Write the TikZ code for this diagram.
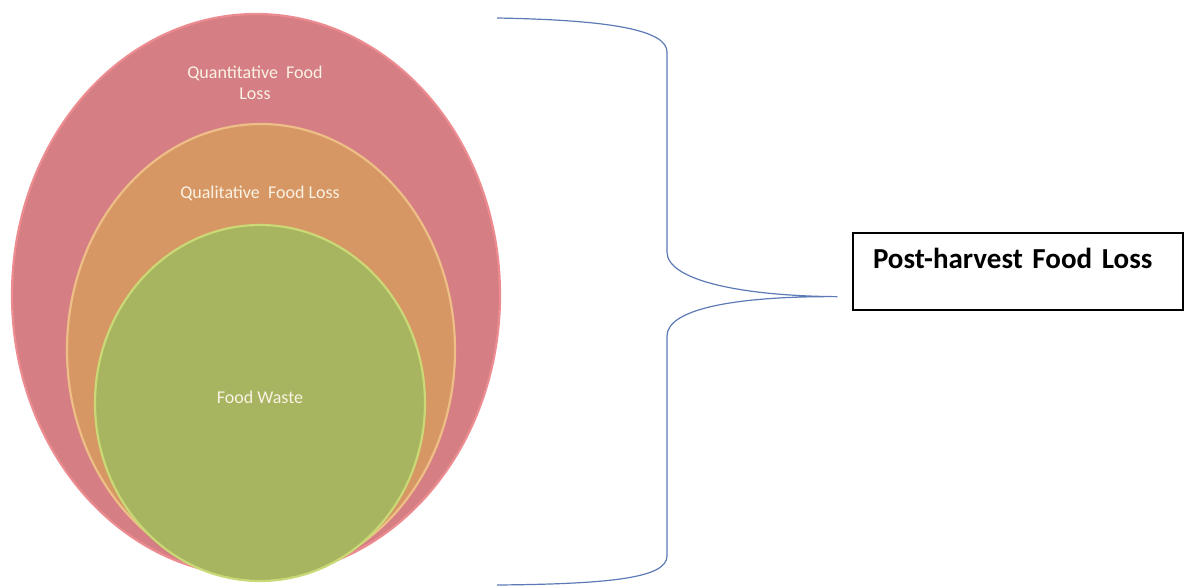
\documentclass[tikz,border=0pt]{standalone}
\usepackage{fontspec}
\setmainfont{Carlito}
\usepackage{tikz}
\usetikzlibrary{positioning, shapes.geometric, calc}

\definecolor{pinkfill}{RGB}{213,126,131}
\definecolor{pinkrim}{RGB}{236,140,145}
\definecolor{orangefill}{RGB}{214,151,101}
\definecolor{orangerim}{RGB}{238,190,135}
\definecolor{greenfill}{RGB}{168,181,96}
\definecolor{greenrim}{RGB}{202,216,118}
\definecolor{bracecol}{RGB}{92,122,182}
\definecolor{labelcol}{RGB}{250,242,228}

\begin{document}
\begin{tikzpicture}[
    x=1pt, y=-1pt,
    layer/.style={ellipse, inner sep=0pt, line width=2.2pt},
    lbl/.style={font=\fontsize{18}{21}\selectfont, text=labelcol, align=center},
    brace/.style={draw=bracecol, line width=1.2pt},
    box/.style={rectangle, draw=black, line width=1.3pt, minimum width=330pt, inner xsep=20pt, inner ysep=0pt,
        text width=290pt, text height=35pt, text depth=42pt, align=left, font=\fontsize{29}{32}\selectfont\bfseries}
]
\useasboundingbox (0,0) rectangle (1184,587);

% nested layers
\node[layer, fill=pinkfill, draw=pinkrim, minimum width=488pt, minimum height=562pt] (quant) at (256,295) {};
\node[layer, fill=orangefill, draw=orangerim, minimum width=388pt, minimum height=452pt] (qual) at (261,350) {};
\node[layer, fill=greenfill, draw=greenrim, minimum width=330pt, minimum height=356pt] (waste) at (260,403) {};

\node[lbl] (quanttext) at (255,83) {Quantitative\ \ Food\\Loss};
\node[lbl] (qualtext) at (260,193) {Qualitative\ \ Food Loss};
\node[lbl] (wastetext) at (260,397) {Food Waste};

% label box
\node[box] (harvest) at (1018,271.5) {Post-harvest Food Loss};

% brace
\coordinate (top) at (497,18);
\coordinate (bot) at (497,585);
\coordinate (tip) at ($(harvest.south west)+(-15,-14)$);
\draw[brace] (top) .. controls (610,20) and (667,30) .. (667,52) -- (667,252)
    .. controls (667,280) and (740,296) .. (tip)
    .. controls (740,296) and (667,308) .. (667,336) -- (667,556)
    .. controls (667,578) and (610,584) .. (bot);

\end{tikzpicture}
\end{document}
